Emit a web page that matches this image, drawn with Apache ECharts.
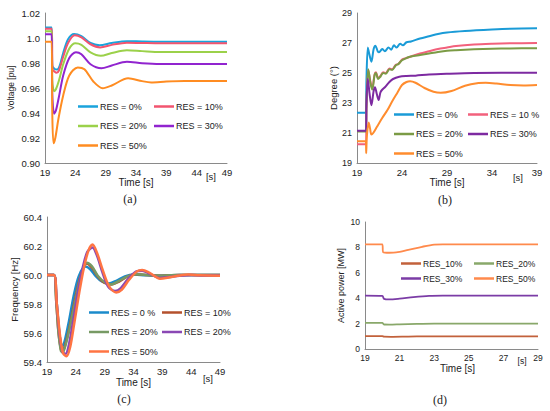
<!DOCTYPE html>
<html><head><meta charset="utf-8">
<script src="https://cdn.jsdelivr.net/npm/echarts@6/dist/echarts.min.js"></script>
<style>html,body{margin:0;padding:0;background:#fff}#c{width:550px;height:411px}</style>
</head><body><div id="c"></div>
<script>
// ---------- tick labels ----------
const VOLT_TICKS_X = [19,24,29,34,39,44,49];
const VOLT_TICKS_Y = [0.90,0.92,0.94,0.96,0.98,1.00,1.02];
const DEG_TICKS_X = [19,24,29,34,39];
const DEG_TICKS_Y = [19,21,23,25,27,29];
const FREQ_TICKS_X = [19,24,29,34,39,44,49];
const FREQ_TICKS_Y = [59.4,59.6,59.8,60.0,60.2,60.4];
const POW_TICKS_X = [19,21,23,25,27,29];
const POW_TICKS_Y = [0,2,4,6,8,10];

// ---------- legend labels ----------
const VOLT_LABELS = ['RES = 0%','RES = 10%','RES = 20%','RES = 30%','RES = 50%'];
const DEG_LABELS  = ['RES = 0%','RES = 10 %','RES = 20%','RES = 30%','RES = 50%'];
const FREQ_LABELS = ['RES = 0 %','RES = 10%','RES = 20%','RES = 20%','RES = 50%'];
const POW_LABELS  = ['RES_10%','RES_20%','RES_30%','RES_50%'];

// ---------- (a) voltage [pu] vs time [s] ----------
const VOLT_RES0 = [[19,1.0085],[20.1,1.0085],[20.2,0.978],[20.6,0.9752],[21.0,0.9748],[21.4,0.9775],[22,0.988],[22.8,0.999],[23.8,1.0033],[25,1.0015],[26.5,0.996],[28,0.9942],[30,0.996],[32.5,0.9975],[35,0.9972],[38,0.997],[42,0.997],[49,0.997]];
const VOLT_RES10 = [[19,1.0075],[20.1,1.0075],[20.25,0.975],[20.6,0.973],[20.9,0.9722],[21.3,0.974],[22,0.985],[22.8,0.996],[23.9,1.0022],[25,1.0005],[26.5,0.995],[28.1,0.9925],[30,0.9945],[32.5,0.9962],[35,0.996],[38,0.9958],[42,0.9958],[49,0.9958]];
const VOLT_RES20 = [[19,1.0055],[20.1,1.0055],[20.2,0.966],[20.5,0.9575],[20.8,0.959],[21.3,0.966],[22,0.979],[23,0.9915],[24,0.9958],[25,0.9945],[26.5,0.9885],[28.2,0.9858],[30,0.988],[32.5,0.9902],[35,0.9895],[38,0.9888],[42,0.9888],[49,0.9888]];
const VOLT_RES30 = [[19,1.003],[20.1,1.003],[20.2,0.955],[20.5,0.9395],[20.8,0.942],[21.3,0.953],[22,0.970],[23,0.984],[24.1,0.9886],[25,0.987],[26.5,0.979],[28.3,0.9758],[30,0.978],[32.5,0.981],[35,0.9798],[38,0.9792],[42,0.9792],[49,0.9792]];
const VOLT_RES50 = [[19,0.997],[20.1,0.997],[20.2,0.94],[20.4,0.9158],[20.7,0.92],[21.2,0.935],[22,0.954],[23,0.970],[24.4,0.9765],[25.5,0.975],[27,0.965],[28.5,0.9598],[30,0.962],[32.7,0.9678],[35,0.9655],[36.5,0.9645],[39,0.9652],[42,0.9656],[49,0.9656]];

// ---------- (b) degree vs time [s] ----------
const DEG_RES0 = [[19,22.35],[20.0,22.35],[20.05,24.5],[20.2,26.7],[20.35,26.3],[20.6,25.75],[20.85,26.6],[21.05,26.82],[21.3,26.45],[21.45,26.38],[21.8,26.6],[22.1,26.45],[22.5,26.7],[22.8,26.55],[23.1,26.85],[23.4,26.7],[23.8,26.95],[24.1,26.85],[24.5,27.05],[25,27.1],[26,27.3],[27,27.45],[28,27.6],[29,27.7],[31,27.8],[34,27.9],[36,27.95],[39,27.98]];
const DEG_RES10 = [[19,20.25],[20,20.25],[20.05,22.5],[20.25,25.2],[20.5,24.4],[20.7,24.0],[20.95,24.9],[21.1,25.05],[21.35,24.65],[21.6,24.8],[21.9,25.05],[22.2,25.0],[22.6,25.3],[22.9,25.25],[23.3,25.55],[23.6,25.6],[24,25.9],[24.5,26.0],[25,26.1],[26,26.3],[27,26.45],[28,26.6],[29,26.7],[30,26.8],[32,26.9],[34,26.95],[36,26.98],[39,27.0]];
const DEG_RES20 = [[19,21.1],[20,21.1],[20.05,23],[20.25,25.25],[20.5,24.3],[20.7,23.9],[20.95,24.85],[21.1,25.0],[21.35,24.6],[21.6,24.75],[21.9,25.0],[22.2,24.95],[22.6,25.25],[22.9,25.2],[23.3,25.5],[23.6,25.6],[24,25.85],[24.5,26.0],[25,26.1],[26,26.2],[27,26.3],[28,26.4],[29,26.48],[30,26.52],[32,26.58],[34,26.62],[36,26.64],[39,26.65]];
const DEG_RES30 = [[19,21.15],[20,21.15],[20.05,23],[20.2,24.6],[20.4,23.6],[20.6,22.85],[20.85,23.8],[21.0,24.05],[21.2,23.6],[21.4,23.2],[21.6,23.7],[21.75,23.85],[22.1,24.05],[22.6,24.4],[23,24.6],[23.7,24.75],[24.5,24.8],[25.5,24.82],[27,24.9],[29,24.95],[32,25.0],[39,25.02]];
const DEG_RES50 = [[19,20.45],[20,20.45],[20.02,19.65],[20.1,20.8],[20.3,21.7],[20.45,21.3],[20.6,20.9],[20.8,21.0],[21.2,21.4],[21.8,22.0],[22.4,22.55],[22.9,23.1],[23.5,23.7],[24,24.2],[24.5,24.4],[24.9,24.45],[25.5,24.35],[26.5,24.0],[27.5,23.75],[28.3,23.68],[29.5,23.8],[31,24.15],[32.5,24.33],[33.3,24.35],[34.5,24.3],[36,24.2],[37.5,24.17],[39,24.2]];

// ---------- (c) frequency [Hz] vs time [s] ----------
const FREQ_RES0 = [[19,60],[20.2,60],[20.6,59.85],[21,59.65],[21.4,59.53],[21.7,59.51],[22.1,59.55],[22.8,59.68],[23.6,59.85],[24.5,59.99],[25.6,60.058],[26.5,60.04],[27.5,59.99],[28.5,59.955],[29.7,59.942],[31,59.96],[32.5,59.99],[34,60.003],[36,59.998],[38,59.995],[42,60],[49,60]];
const FREQ_RES10 = [[19,60],[20.2,60],[20.6,59.82],[21,59.6],[21.4,59.49],[21.7,59.47],[22.1,59.51],[22.8,59.62],[23.8,59.82],[24.8,59.99],[25.9,60.08],[26.8,60.05],[27.8,59.99],[29,59.945],[30.2,59.935],[31.5,59.955],[33,59.99],[34.5,60.005],[36.5,60.0],[39,59.995],[42,60.0],[49,60]];
const FREQ_RES20 = [[19,60],[20.2,60],[20.6,59.82],[21,59.6],[21.4,59.48],[21.7,59.465],[22.1,59.5],[22.8,59.61],[23.8,59.8],[24.8,59.98],[25.9,60.085],[26.8,60.06],[27.8,59.995],[29,59.95],[30.2,59.935],[31.5,59.96],[33,59.99],[34.5,60.005],[36.5,60.0],[39,59.995],[42,60],[49,60]];
const FREQ_RES30 = [[19,60],[20.2,60],[20.7,59.8],[21.2,59.58],[21.7,59.47],[22.2,59.455],[22.7,59.5],[23.4,59.65],[24.3,59.87],[25.2,60.05],[26,60.16],[26.9,60.19],[27.7,60.13],[28.6,60.02],[29.6,59.92],[30.8,59.89],[31.8,59.91],[33,59.97],[34.5,60.025],[35.5,60.03],[36.8,60.01],[38.5,59.98],[40,59.985],[42,59.995],[44,60.0],[46,59.997],[49,59.997]];
const FREQ_RES50 = [[19,60],[20.2,60],[20.7,59.8],[21.3,59.57],[21.8,59.46],[22.4,59.44],[23,59.5],[23.7,59.66],[24.6,59.88],[25.4,60.05],[26.2,60.17],[26.9,60.21],[27.7,60.15],[28.7,60.03],[29.8,59.92],[31,59.88],[32,59.9],[33.2,59.965],[34.6,60.025],[35.5,60.035],[36.8,60.015],[38.6,59.975],[40.3,59.985],[42,59.997],[43.5,60.003],[45.5,59.998],[49,59.995]];

// ---------- (d) active power [MW] vs time [s] ----------
const POW_RES10 = [[19,1.02],[20,1.02],[20.1,0.97],[20.5,0.96],[21.5,0.98],[22.5,0.995],[23.5,1.0],[29,1.0]];
const POW_RES20 = [[19,2.05],[20,2.05],[20.1,1.93],[20.4,1.92],[21,1.94],[22,1.98],[23,2.0],[29,2.0]];
const POW_RES30 = [[19,4.2],[20,4.18],[20.1,3.95],[20.4,3.9],[21,3.96],[21.8,4.08],[22.7,4.18],[23.5,4.2],[29,4.2]];
const POW_RES50 = [[19,8.24],[20,8.24],[20.05,7.62],[20.4,7.58],[20.8,7.6],[21.5,7.8],[22.3,8.05],[23,8.22],[23.5,8.24],[29,8.24]];

// ---------- build ----------
const FONT = 'Liberation Sans';
const TXT = '#222';
const AXC = '#8a8a8a';
const NAMES = {};
function line(key, label, data, color, width, gi) {
  NAMES[key] = label;
  return { type:'line', name:key, data:data, xAxisIndex:gi, yAxisIndex:gi, showSymbol:false, symbol:'none',
    smooth:0.3, lineStyle:{color:color, width:width}, itemStyle:{color:color}, z:2 };
}
const A_COL = ['#1aa3dc','#f2546f','#9bd14a','#9124cf','#ff8c21'];
const B_COL = ['#1a9bd7','#f2617c','#7b9b45','#7d2aa1','#ff8c2e'];
const C_COL = ['#1b8bcb','#b4512d','#779a64','#8a48b4','#ff7443'];
const D_COL = ['#c2613b','#89a86a','#7b3ca6','#ff8a4c'];

const series = [
  line('a0',VOLT_LABELS[0],VOLT_RES0,A_COL[0],2,0),
  line('a1',VOLT_LABELS[1],VOLT_RES10,A_COL[1],2,0),
  line('a2',VOLT_LABELS[2],VOLT_RES20,A_COL[2],2,0),
  line('a3',VOLT_LABELS[3],VOLT_RES30,A_COL[3],2,0),
  line('a4',VOLT_LABELS[4],VOLT_RES50,A_COL[4],2,0),
  line('b0',DEG_LABELS[0],DEG_RES0,B_COL[0],2,1),
  line('b1',DEG_LABELS[1],DEG_RES10,B_COL[1],2,1),
  line('b2',DEG_LABELS[2],DEG_RES20,B_COL[2],2,1),
  line('b3',DEG_LABELS[3],DEG_RES30,B_COL[3],2,1),
  line('b4',DEG_LABELS[4],DEG_RES50,B_COL[4],2,1),
  line('c0',FREQ_LABELS[0],FREQ_RES0,C_COL[0],2.5,2),
  line('c1',FREQ_LABELS[1],FREQ_RES10,C_COL[1],2.5,2),
  line('c2',FREQ_LABELS[2],FREQ_RES20,C_COL[2],2.5,2),
  line('c3',FREQ_LABELS[3],FREQ_RES30,C_COL[3],2.5,2),
  line('c4',FREQ_LABELS[4],FREQ_RES50,C_COL[4],2.5,2),
  line('d0',POW_LABELS[0],POW_RES10,D_COL[0],1.8,3),
  line('d1',POW_LABELS[1],POW_RES20,D_COL[1],1.8,3),
  line('d2',POW_LABELS[2],POW_RES30,D_COL[2],1.8,3),
  line('d3',POW_LABELS[3],POW_RES50,D_COL[3],1.8,3)
];

function xAx(gi, ticks, fs, gap, pad) {
  return { type:'value', gridIndex:gi, min:ticks[0], max:ticks[ticks.length-1],
    name:'Time [s]', nameLocation:'middle', nameGap:gap,
    nameTextStyle:{fontFamily:FONT, fontSize:10, color:TXT, padding:pad||0},
    axisLine:{show:true, lineStyle:{color:AXC, width:1}}, axisTick:{show:false},
    splitLine:{show:false},
    axisLabel:{customValues:ticks, fontFamily:FONT, fontSize:fs, color:TXT, margin:4} };
}
function yAx(gi, ticks, name, nfs, ngap, fs, fmt) {
  return { type:'value', gridIndex:gi, min:ticks[0], max:ticks[ticks.length-1],
    name:name, nameLocation:'middle', nameGap:ngap, nameRotate:90,
    nameTextStyle:{fontFamily:FONT, fontSize:nfs, color:TXT},
    axisLine:{show:true, lineStyle:{color:AXC, width:1}}, axisTick:{show:false},
    splitLine:{show:false},
    axisLabel:{customValues:ticks, fontFamily:FONT, fontSize:fs, color:TXT, margin:5, formatter:fmt} };
}
function leg(keys, left, top, gap, fs) {
  return { orient:'vertical', left:left, top:top, itemGap:gap, padding:0,
    itemWidth:20, itemHeight:2.5, icon:'rect', data:keys,
    formatter:function(n){return NAMES[n];},
    textStyle:{fontFamily:FONT, fontSize:fs, color:TXT, padding:[0,0,0,-3]}, selectedMode:false };
}
function txt(x, y, s, fs, fam) {
  return { type:'text', x:x, y:y, style:{text:s, fontFamily:fam||FONT, fontSize:fs, fill:TXT, textAlign:'center', textVerticalAlign:'middle'} };
}

const option = {
  animation:false,
  backgroundColor:'#fff',
  grid:[
    {left:45, top:13, width:182, height:150},
    {left:357, top:13, width:180, height:150},
    {left:47, top:217, width:173, height:145},
    {left:365, top:222, width:173, height:127}
  ],
  xAxis:[ xAx(0,VOLT_TICKS_X,9.5,14), xAx(1,DEG_TICKS_X,9.5,14), xAx(2,FREQ_TICKS_X,9.5,15), xAx(3,POW_TICKS_X,8.5,14,[0,0,0,12]) ],
  yAxis:[
    yAx(0,VOLT_TICKS_Y,'Voltage [pu]',8.5,30,9.5,function(v){return Math.abs(v-1)<1e-9?'1.0':v.toFixed(2);}),
    yAx(1,DEG_TICKS_Y,'Degree (°)',9.5,19,9,function(v){return String(Math.round(v));}),
    yAx(2,FREQ_TICKS_Y,'Frequency [Hz]',9.5,28,9.5,function(v){return v.toFixed(1);}),
    yAx(3,POW_TICKS_Y,'Active power [MW]',9,20,8.5,function(v){return String(Math.round(v));})
  ],
  legend:[
    leg(['a0','a2','a4'],78,102,10.5,9),
    leg(['a1','a3'],154,102,10.5,9),
    leg(['b0','b2','b4'],394,110,10.5,9),
    leg(['b1','b3'],468,110,10.5,9),
    leg(['c0','c2','c4'],89,308,10.5,9),
    leg(['c1','c3'],162,308,10.5,9),
    leg(['d0','d2'],401,259,6,8.5),
    leg(['d1','d3'],474,259,6,8.5)
  ],
  graphic:[
    txt(211,176,'[s]',9.5), txt(518,177,'[s]',9.5), txt(208,378,'[s]',9.5), txt(522,361,'[s]',8.5),
    txt(130,199,'(a)',12,'Liberation Serif'), txt(445,200,'(b)',12,'Liberation Serif'),
    txt(124,399,'(c)',12,'Liberation Serif'), txt(440,400,'(d)',12,'Liberation Serif')
  ],
  series:series
};
const chart = echarts.init(document.getElementById('c'), null, {renderer:'svg'});
chart.setOption(option);
</script></body></html>
